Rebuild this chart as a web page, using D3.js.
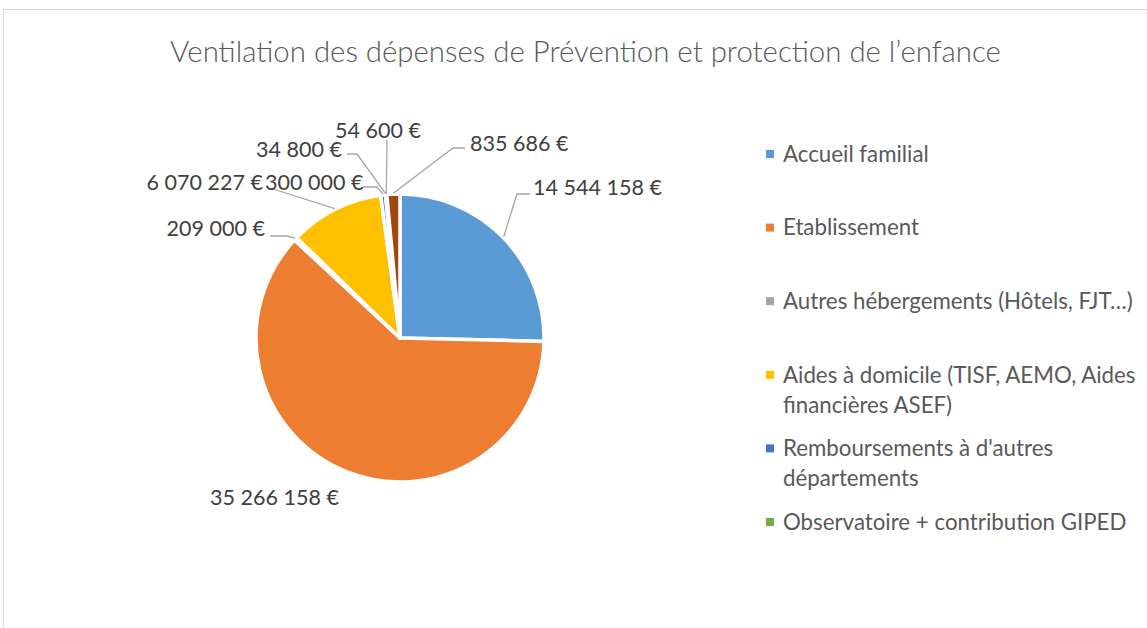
<!DOCTYPE html>
<html><head><meta charset="utf-8">
<script src="https://cdn.jsdelivr.net/npm/d3@7"></script>
<style>html,body{margin:0;padding:0;background:#fff;}svg{display:block;}</style>
</head><body>
<script>
// ---- data ----
const title = "Ventilation des dépenses de Prévention et protection de l’enfance";
const categories = ["Accueil familial","Etablissement","Autres hébergements (Hôtels, FJT…)","Aides à domicile (TISF, AEMO, Aides financières ASEF)","Remboursements à d'autres départements","Observatoire + contribution GIPED","(non légendé 7)","(non légendé 8)"];
const values = [14544158, 35266158, 209000, 6070227, 300000, 34800, 54600, 835686];
const legendCount = 6;
// ---- styles / layout ----
const colors = ["#5B9BD5","#ED7D31","#A5A5A5","#FFC000","#4472C4","#70AD47","#255E91","#9E480E"];
const labelLayout = [
  {x:533, y:187, anchor:"start", leader:[[530,194],[517,194]]},
  {x:210, y:497, anchor:"start", leader:[]},
  {x:265, y:228, anchor:"end", leader:[[270,236],[287,236]]},
  {x:263, y:182, anchor:"end", leader:[[270,188]]},
  {x:265, y:182, anchor:"start", leader:[[363,187],[377,187]]},
  {x:342, y:149, anchor:"end", leader:[[347,154],[357,154]]},
  {x:378, y:130, anchor:"middle", leader:[[387,140]]},
  {x:470, y:143, anchor:"start", leader:[[465,148],[453,148]]}
];
const W = 1147, H = 628, cx = 400, cy = 338, R = 144;
const FONT = "Lato, 'Open Sans', sans-serif";

const svg = d3.select("body").append("svg").attr("width", W).attr("height", H);
svg.append("rect").attr("width", W).attr("height", H).attr("fill", "#fff");
// chart border
svg.append("path").attr("d", `M3.5,${H+2} V9.5 H${W+2}`).attr("fill","none").attr("stroke","#d9d9d9").attr("stroke-width",1);

function fitSize(text, target){
  const t = svg.append("text").attr("font-family", FONT).attr("font-size", 100).text(text);
  const w = t.node().getComputedTextLength(); t.remove();
  return 100 * target / w;
}
const titleSize = fitSize(title, 845);
const legendSize = fitSize(categories[2], 350);
const labelSize = fitSize("14 544 158 €", 129);

svg.append("text").attr("x", 585.5).attr("y", 52).attr("dy","0.35em")
  .attr("text-anchor","middle").attr("font-family", FONT).attr("font-weight", 300)
  .attr("font-size", titleSize).attr("fill","#595959").text(title);

const fmtLocale = d3.formatLocale({decimal:",", thousands:" ", grouping:[3], currency:[""," €"]});
const fmt = fmtLocale.format("$,.0f");

const pie = d3.pie().sort(null).value(d => d.v);
const data = values.map((v,i) => ({v, i, name: categories[i]}));
const arcs = pie(data);
const arc = d3.arc().innerRadius(0).outerRadius(R);

const g = svg.append("g").attr("transform", `translate(${cx},${cy})`);
g.selectAll("path.slice").data(arcs).join("path").attr("class","slice")
  .attr("d", arc).attr("fill", d => colors[d.data.i])
  .attr("stroke","#fff").attr("stroke-width",3.5).attr("stroke-linejoin","round");

// leader lines
const leaderArc = d3.arc().innerRadius(R+1).outerRadius(R+1);
arcs.forEach(d => {
  const L = labelLayout[d.data.i];
  if (!L.leader.length) return;
  const c = leaderArc.centroid(d);
  const pts = L.leader.concat([[c[0]+cx, c[1]+cy]]);
  svg.append("path").attr("d", d3.line()(pts)).attr("fill","none")
    .attr("stroke","#a6a6a6").attr("stroke-width",1.3);
});
// data labels
svg.selectAll("text.lbl").data(arcs).join("text").attr("class","lbl")
  .attr("x", d => labelLayout[d.data.i].x).attr("y", d => labelLayout[d.data.i].y)
  .attr("dy","0.35em").attr("text-anchor", d => labelLayout[d.data.i].anchor)
  .attr("font-family", FONT).attr("font-size", labelSize).attr("fill","#404040")
  .text(d => fmt(d.data.v));

// legend
const legendItems = data.slice(0, legendCount);
const ly = d3.scalePoint().domain(legendItems.map(d => d.i)).range([154, 522]);
const lineH = 30, maxW = 362;
function wrap(text){
  const words = text.split(" "), lines = [];
  const t = svg.append("text").attr("font-family", FONT).attr("font-size", legendSize);
  let cur = "";
  words.forEach(w => {
    const test = cur ? cur + " " + w : w;
    t.text(test);
    if (t.node().getComputedTextLength() > maxW && cur) { lines.push(cur); cur = w; }
    else cur = test;
  });
  lines.push(cur); t.remove();
  return lines;
}
const lg = svg.append("g");
legendItems.forEach(d => {
  const y = ly(d.i);
  lg.append("rect").attr("x",766).attr("y",y-4).attr("width",8).attr("height",8).attr("fill",colors[d.i]);
  const t = lg.append("text").attr("x",783).attr("y",y).attr("dy","0.35em")
    .attr("font-family",FONT).attr("font-size",legendSize).attr("fill","#595959");
  wrap(d.name).forEach((ln,k) => {
    t.append("tspan").attr("x",783).attr("y", y + k*lineH).attr("dy","0.35em").text(ln);
  });
});
</script>
</body></html>
